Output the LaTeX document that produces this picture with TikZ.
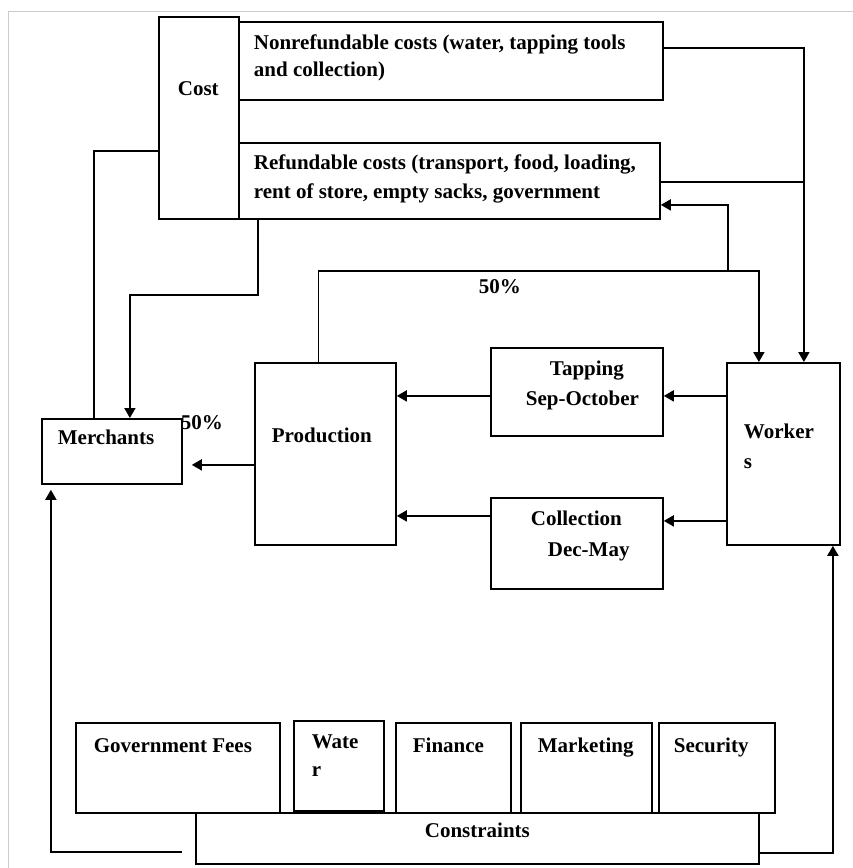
\documentclass[tikz,border=0pt]{standalone}
\usepackage{fontspec}
\setmainfont{Liberation Serif}
\usetikzlibrary{arrows.meta,calc}
\tikzset{
  box/.style={draw,inner sep=0pt,anchor=north west},
  txt/.style={font=\fontsize{21}{28}\selectfont\bfseries,inner sep=0pt,anchor=base west},
  arr/.style={-{Triangle[length=10pt,width=11pt]}},
}

\begin{document}
\begin{tikzpicture}[x=1pt,y=-1pt,line width=1.8pt]
  \useasboundingbox (0,0) rectangle (853,868);
  \draw[gray!40,line width=1pt] (8,868)--(8,11)--(853,11);
  % boxes
  \node[box,minimum width=80pt,minimum height=202pt] (cost) at (158,16) {};
  \node[box,minimum width=424pt,minimum height=78pt] (nonref) at (238,21) {};
  \node[box,minimum width=421pt,minimum height=76pt] (ref) at (238,142) {};
  \node[box,minimum width=141pt,minimum height=182pt] (prod) at (254,362) {};
  \node[box,minimum width=140pt,minimum height=65pt] (merch) at (41,418) {};
  \node[box,minimum width=172pt,minimum height=88pt] (tap) at (490,347) {};
  \node[box,minimum width=172pt,minimum height=91pt] (coll) at (490,497) {};
  \node[box,minimum width=113pt,minimum height=182pt] (workers) at (726,362) {};
  \node[box,minimum width=204pt,minimum height=90pt] (govfees) at (75,722) {};
  \node[box,minimum width=90pt,minimum height=90pt] (water) at (293,720) {};
  \node[box,minimum width=115pt,minimum height=90pt] (finance) at (395,722) {};
  \node[box,minimum width=131pt,minimum height=90pt] (market) at (520,722) {};
  \node[box,minimum width=116pt,minimum height=90pt] (secur) at (658,722) {};
  \node[box,minimum width=563pt,minimum height=51pt,fill=white] (cons) at (195,812) {};
  % texts
  \node[txt] (t-cost) at (177,95) {Cost};
  \node[txt] (t-nonref1) at (253,49) {Nonrefundable costs (water, tapping tools};
  \node[txt] (t-nonref2) at (253,76) {and collection)};
  \node[txt] (t-ref1) at (253,169) {Refundable costs (transport, food, loading,};
  \node[txt] (t-ref2) at (253,198) {rent of store, empty sacks, government};
  \node[txt] (t-tap1) at (549,375) {Tapping};
  \node[txt] (t-tap2) at (525,405) {Sep-October};
  \node[txt] (t-coll1) at (530,525) {Collection};
  \node[txt] (t-coll2) at (547,556) {Dec-May};
  \node[txt] (t-work1) at (743,438) {Worker};
  \node[txt] (t-work2) at (743,468) {s};
  \node[txt] (t-prod) at (271,442) {Production};
  \node[txt] (t-merch) at (57,444) {Merchants};
  \node[txt] (t-pct1) at (180,429) {50\%};
  \node[txt] (t-pct2) at (478,293) {50\%};
  \node[txt] (t-gov) at (93,752) {Government Fees};
  \node[txt] (t-wat1) at (311,748) {Wate};
  \node[txt] (t-wat2) at (311,776) {r};
  \node[txt] (t-fin) at (412,752) {Finance};
  \node[txt] (t-mkt) at (537,752) {Marketing};
  \node[txt] (t-sec) at (673,752) {Security};
  \node[txt] (t-cons) at (424,837) {Constraints};
  % connectors
  \coordinate (join) at (803,182);
  \coordinate (split) at (728,271);
  \coordinate (cgap) at (182,852);
  \draw[arr] ([yshift=13pt]nonref.east) -| ([xshift=20.5pt]workers.north);
  \draw (join) -- (join -| ref.east);
  \draw[arr] ([xshift=-7pt]prod.north) -- ++(0,-91) -| ([xshift=-24.5pt]workers.north);
  \draw[arr] (split) |- ([yshift=-24pt]ref.east);
  \draw ([yshift=-33pt]cost.west) -| ([xshift=-18pt]merch.north);
  \draw[arr] ([xshift=20pt]ref.south west) -- ++(0,75) -| ([xshift=18pt]merch.north);
  \draw[arr,shorten >=9pt] ([yshift=-11pt]prod.west) -- ([yshift=-11pt]prod.west -| merch.east);
  \draw[arr] ([yshift=-4pt]tap.east -| workers.west) -- ([yshift=-4pt]tap.east);
  \draw[arr] ([yshift=22.5pt]coll.east -| workers.west) -- ([yshift=22.5pt]coll.east);
  \draw[arr] ([yshift=-4pt]tap.west) -- ([yshift=-4pt]tap.west -| prod.east);
  \draw[arr] ([yshift=27.5pt]coll.west) -- ([yshift=27.5pt]coll.west -| prod.east);
  \draw[arr] ([yshift=-14.5pt]cons.east) -| ([xshift=49.5pt]workers.south);
  \draw[arr,shorten >=5pt] (cgap) -| ([xshift=-61pt]merch.south);
\end{tikzpicture}
\end{document}
